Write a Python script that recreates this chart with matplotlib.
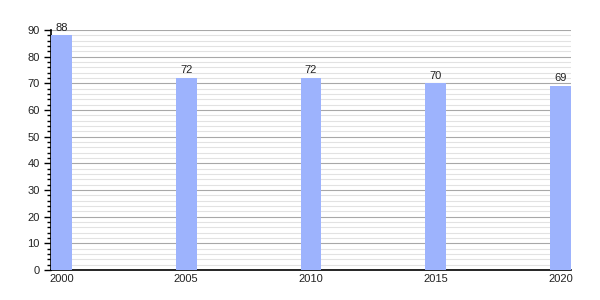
import matplotlib
matplotlib.use("Agg")
import matplotlib.pyplot as plt
from matplotlib.ticker import MultipleLocator

years = [2000, 2005, 2010, 2015, 2020]
values = [88, 72, 72, 70, 69]

plt.rcParams['font.family'] = ['Liberation Sans', 'DejaVu Sans']

fig = plt.figure(figsize=(6, 3), dpi=100)
ax = fig.add_axes([0.085, 0.1, 0.8667, 0.8])

ax.bar(years, values, width=0.84, color='#9db3fd', zorder=3)
for x, v in zip(years, values):
    ax.text(x, v + 1, str(v), ha='center', va='bottom', fontsize=8, color='#222222', zorder=4)

ax.set_xlim(2000 - 0.42, 2020 + 0.42)
ax.set_ylim(0, 90)
ax.set_xticks(years)
ax.set_xticklabels([str(y) for y in years])
ax.yaxis.set_major_locator(MultipleLocator(10))
ax.yaxis.set_minor_locator(MultipleLocator(2))
ax.grid(which='major', axis='y', color='#a8a8a8', linewidth=0.8, zorder=1)
ax.grid(which='minor', axis='y', color='#e2e2e2', linewidth=0.8, zorder=0)
ax.grid(False, axis='x')
for s in ['top', 'right']:
    ax.spines[s].set_visible(False)
ax.spines['left'].set_linewidth(1.2)
ax.spines['bottom'].set_linewidth(1.2)
ax.tick_params(axis='y', which='major', length=5, width=1, labelsize=8, pad=3, labelcolor='#222222')
ax.tick_params(axis='y', which='minor', length=3, width=1)
ax.tick_params(axis='x', length=0, labelsize=8, pad=3, labelcolor='#222222')

fig.savefig('out.png', dpi=100)
